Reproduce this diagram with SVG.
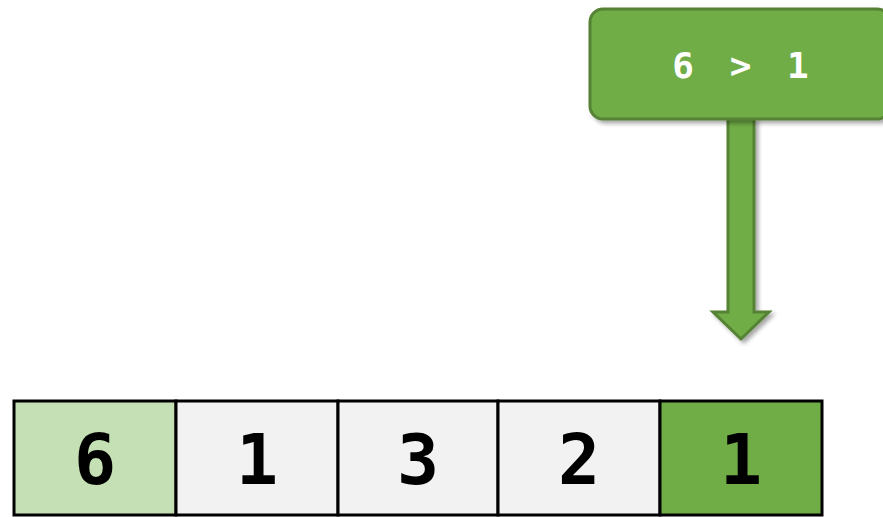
<svg xmlns="http://www.w3.org/2000/svg" width="883" height="517" viewBox="0 0 883 517">
<defs>
<filter id="sh" x="-20%" y="-20%" width="140%" height="140%">
<feGaussianBlur in="SourceAlpha" stdDeviation="2"/>
<feOffset dx="3" dy="3" result="o"/>
<feComponentTransfer><feFuncA type="linear" slope="0.35"/></feComponentTransfer>
<feMerge><feMergeNode/><feMergeNode in="SourceGraphic"/></feMerge>
</filter>
</defs>
<style>
.cell{stroke:#000;stroke-width:3}
.num{font-family:"DejaVu Sans Mono",monospace;font-weight:bold;font-size:70px;text-anchor:middle;fill:#000}
.lbl{font-family:"DejaVu Sans Mono",monospace;font-weight:bold;font-size:36px;text-anchor:middle;fill:#fff;letter-spacing:7px}
</style>
<g id="connectors">
<path d="M728,119 L754,119 L754,312 L769,312 L741,339 L713,312 L728,312 Z" fill="#70AD47" stroke="#548235" stroke-width="3" filter="url(#sh)"/>
</g>
<g id="compare">
<rect x="590" y="9" width="300" height="110" rx="13" fill="#70AD47" stroke="#548235" stroke-width="3" filter="url(#sh)"/>
<text class="lbl" x="744" y="78">6 &gt; 1</text>
</g>
<g id="cell0"><rect class="cell" x="14" y="401" width="162" height="114" fill="#C5E0B4"/><text class="num" x="95" y="484">6</text></g>
<g id="cell1"><rect class="cell" x="176" y="401" width="162" height="114" fill="#F2F2F2"/><text class="num" x="257" y="484">1</text></g>
<g id="cell2"><rect class="cell" x="338" y="401" width="160" height="114" fill="#F2F2F2"/><text class="num" x="418" y="484">3</text></g>
<g id="cell3"><rect class="cell" x="498" y="401" width="162" height="114" fill="#F2F2F2"/><text class="num" x="579" y="484">2</text></g>
<g id="cell4"><rect class="cell" x="660" y="401" width="162" height="114" fill="#70AD47"/><text class="num" x="741" y="484">1</text></g>
</svg>
